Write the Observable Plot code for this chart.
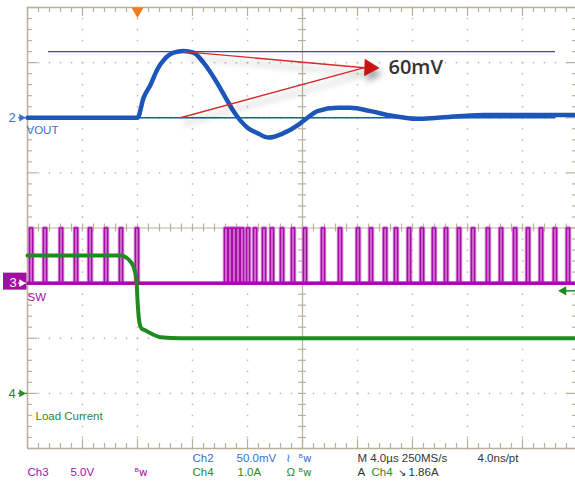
<!DOCTYPE html>
<html><head><meta charset="utf-8">
<script src="https://cdn.jsdelivr.net/npm/d3@7"></script>
<script src="https://cdn.jsdelivr.net/npm/@observablehq/plot@0.6"></script>
<style>body{margin:0;background:#fff}</style>
</head><body><div id="chart"></div>
<script>
// ---- time base: µs relative to trigger (4 µs/div, 10 divs) ----
const timeDomain = [-8, 32];
// ---- Ch2 VOUT: mV relative to its baseline (50 mV/div) ----
const voutT  = [-8, -4, 0, 0.44, 0.95, 1.45, 1.89, 2.62, 3.35, 4.07, 4.8, 5.82, 6.55, 6.98, 8.0, 8.73, 9.53, 10.62, 11.64, 12.36, 13.09, 14.55, 15.49, 16.95, 18.4, 20.36, 21.82, 25.16, 32];
const voutMV = [0, 0, 0, 18, 30, 44, 52, 59, 60.5, 59, 50, 31, 15, 6, -9, -14, -18, -14, -7, 0, 6, 9, 9, 6, 2, -1, 0, 2.5, 2.5];
// ---- Ch4 Load current: A (1.0 A/div) ----
const loadT = [-8, -1.24, -0.65, -0.29, -0.07, 0, 0.15, 0.29, 0.58, 0.95, 1.67, 3.13, 32];
const loadA = [2.5, 2.5, 2.43, 2.3, 2.05, 1.69, 1.27, 1.18, 1.14, 1.09, 1.02, 1.0, 1.0];
// ---- Ch3 SW: pulse start times (µs), levels (V, 5 V/div) ----
const swPulseT = [-7.85, -6.84, -5.67, -4.58, -3.56, -2.4, -1.31, -0.15,
  6.33, 6.62, 6.91, 7.2, 7.49, 7.93, 8.44, 9.09, 9.67, 10.4, 11.2, 12.07, 13.38, 14.62, 15.93, 16.87,
  17.9, 18.69, 19.64, 20.58, 21.45, 22.33, 23.27, 24.29, 25.38, 26.33, 27.35, 28.29, 29.24, 30.25, 31.2];
const swLowV = 0, swHighV = 5, swPulseWidth = 0.22;
// ---- measurement / settings ----
const cursorMV = [0, 60];
const overshootLabel = "60mV";
const triggerLevelA = 1.86;
const chOffsetDiv = {ch2: 2, ch3: -1, ch4: -3};
const chScale = {ch2: 50, ch3: 5, ch4: 1.0};
const row1Labels = ["Ch2", "50.0mV", "≀", "ᴮw", "M 4.0µs 250MS/s", "4.0ns/pt"];
const row2Labels = ["Ch3", "5.0V", "ᴮw", "Ch4", "1.0A", "Ω", "ᴮw", "A", "Ch4", "↘", "1.86A"];

// colours
const BLUE = "#1b56b8", BLUE_T = "#3a6fd0", MAG = "#a80ca8", MAG_L = "#d88ad8", GRN = "#1f8a1f", GRN_T = "#2a8a2a";
const TAN = "#b9b197", DOT = "#c6bfa6", DARK = "#333";

const PX = 8 / 441;          // div per px (vertical)
const TPX = 40 / 550;        // µs per px (horizontal)
const v2 = mv => chOffsetDiv.ch2 + mv / chScale.ch2;
const v3 = v => chOffsetDiv.ch3 + v / chScale.ch3;
const v4 = a => chOffsetDiv.ch4 + a / chScale.ch4;

const vout = voutT.map((t, i) => ({t, y: v2(voutMV[i])}));
const load = loadT.map((t, i) => ({t, y: v4(loadA[i])}));
const sw = [{t: timeDomain[0], y: v3(swLowV)}];
for (const t of swPulseT) {
  sw.push({t, y: v3(swLowV)}, {t, y: v3(swHighV)}, {t: t + swPulseWidth, y: v3(swHighV)}, {t: t + swPulseWidth, y: v3(swLowV)});
}
sw.push({t: timeDomain[1], y: v3(swLowV)});

// graticule helpers
const xMajor = d3.range(-8, 32.01, 4);
const xMinor = d3.range(-8, 32.01, 0.8);
const yMajor = d3.range(-4, 4.01, 1);
const yMinor = d3.range(-4, 4.01, 0.2);
const gridDots = [];
for (const x of xMajor) if (x > -8 && x < 32 && x !== 12) for (const y of yMinor) gridDots.push({x, y});
for (const y of yMajor) if (y > -4 && y < 4 && y !== 0) for (const x of xMinor) gridDots.push({x, y});

const tipT = 16.87, tipMV = 45.4;
const peakIdx = voutMV.indexOf(d3.max(voutMV));
const arrowLinks = [
  {x1: voutT[peakIdx], y1: v2(cursorMV[1]), x2: tipT - 5 * TPX, y2: v2(tipMV)},
  {x1: voutT[peakIdx] - 0.22, y1: v2(cursorMV[0]), x2: tipT - 5 * TPX, y2: v2(tipMV)}
];

const fontS = "Liberation Sans, Arial, sans-serif";
const txt = (label, x, y, fill, extra = {}) =>
  Plot.text([label], {x: () => x, y: () => y, text: d => d, fill, textAnchor: "start", fontSize: 11.5, fontFamily: fontS, ...extra});

const r1 = -4.18, r2 = -4.44;
const tAt = px => (px - 137) * TPX;

const chart = Plot.plot({
  width: 575, height: 483,
  x: {domain: timeDomain, range: [27, 577], axis: null},
  y: {domain: [-4, 4], range: [448, 7], axis: null},
  style: {background: "#fff", overflow: "visible"},
  marks: [
    // grid dots
    Plot.dot(gridDots, {x: "x", y: "y", r: 0.9, fill: DOT}),
    // center axes
    Plot.ruleX([12], {y1: -4, y2: 4, stroke: TAN, strokeWidth: 1.2}),
    Plot.ruleY([0], {x1: -8, x2: 32, stroke: TAN, strokeWidth: 1.2}),
    Plot.ruleY(yMinor, {x1: 12 - 4 * TPX, x2: 12 + 4 * TPX, stroke: TAN, strokeWidth: 1.2}),
    Plot.ruleX(xMinor, {y1: -4 * PX, y2: 4 * PX, stroke: TAN, strokeWidth: 1.2}),
    // border ticks
    Plot.ruleX(xMinor, {y1: 4, y2: d => 4 - (xMajor.includes(d) ? 9 : 5) * PX, stroke: TAN, strokeWidth: 1.2}),
    Plot.ruleX(xMinor, {y1: -4, y2: d => -4 + (xMajor.includes(d) ? 9 : 5) * PX, stroke: TAN, strokeWidth: 1.2}),
    Plot.ruleY(yMinor, {x1: -8, x2: d => -8 + (Number.isInteger(Math.round(d * 1000) / 1000) ? 10 : 5) * TPX, stroke: TAN, strokeWidth: 1.2}),
    Plot.ruleY(yMinor, {x1: 32, x2: d => 32 - (Number.isInteger(Math.round(d * 1000) / 1000) ? 10 : 5) * TPX, stroke: TAN, strokeWidth: 1.2}),
    // frame
    Plot.ruleX([-8, 32], {y1: -4, y2: 4, stroke: TAN, strokeWidth: 1.5}),
    Plot.ruleY([-4, 4], {x1: -8, x2: 32, stroke: TAN, strokeWidth: 1.5}),
    // cursors
    Plot.ruleY(cursorMV.map(v2), {x1: tAt(48), x2: tAt(555), stroke: BLUE, strokeWidth: 1.3}),
    // SW trace
    Plot.line(sw, {x: "t", y: "y", stroke: MAG_L, strokeWidth: 3.5}),
    Plot.ruleY([v3(swLowV)], {x1: -8, x2: 32, stroke: MAG, strokeWidth: 3.5}),
    Plot.line(sw, {x: "t", y: "y", stroke: MAG, strokeWidth: 1.6}),
    // load current
    Plot.line(load, {x: "t", y: "y", stroke: GRN, strokeWidth: 4, curve: "monotone-x"}),
    // VOUT
    Plot.line(vout, {x: "t", y: "y", stroke: BLUE, strokeWidth: 4.5, curve: "monotone-x"}),
    // measurement arrows
    Plot.link(arrowLinks, {x1: "x1", y1: "y1", x2: "x2", y2: "y2", stroke: "#d42a2a", strokeWidth: 1.4, ariaDescription: "measure"}),
    Plot.dot([0], {x: () => tipT, y: () => v2(tipMV), symbol: "triangle", rotate: 92, r: 6.5, fill: "#c81414", stroke: "none", ariaDescription: "measure"}),
    Plot.text([overshootLabel], {x: () => tAt(388), y: () => v2(tipMV), text: d => d, textAnchor: "start", fontSize: 20, fontWeight: 600, fill: DARK, fontFamily: "Open Sans, sans-serif"}),
    // trigger markers
    Plot.dot([0], {x: () => 0, y: () => 4 - 3.5 * PX, symbol: "triangle", rotate: 180, r: 4.5, fill: "#f07a20"}),
    Plot.ruleY([v4(triggerLevelA)], {x1: tAt(560), x2: tAt(577), stroke: GRN, strokeWidth: 1.5}),
    Plot.dot([0], {x: () => tAt(563), y: () => v4(triggerLevelA), symbol: "triangle", rotate: -90, r: 3.5, fill: GRN}),
    // channel markers
    txt("2", tAt(8), v2(0), BLUE_T, {fontSize: 13}),
    Plot.ruleY([v2(0)], {x1: tAt(18), x2: tAt(27), stroke: BLUE_T, strokeWidth: 1.2}),
    Plot.dot([0], {x: () => tAt(21), y: () => v2(0), symbol: "triangle", rotate: 90, r: 2.8, fill: BLUE_T}),
    txt("VOUT", tAt(26), v2(0) - 13 * PX, BLUE_T),
    Plot.rect([0], {x1: () => tAt(3), x2: () => tAt(26.5), y1: () => v3(0) + 10 * PX, y2: () => v3(0) - 7 * PX, fill: "#a010a0"}),
    txt("3", tAt(9), v3(0), "#fff", {fontSize: 13}),
    Plot.ruleY([v3(0)], {x1: tAt(18), x2: tAt(26), stroke: "#fff", strokeWidth: 1.2}),
    Plot.dot([0], {x: () => tAt(21), y: () => v3(0), symbol: "triangle", rotate: 90, r: 2.8, fill: "#fff"}),
    txt("SW", tAt(27), v3(0) - 14 * PX, MAG),
    txt("4", tAt(8), v4(0), GRN_T, {fontSize: 13}),
    Plot.ruleY([v4(0)], {x1: tAt(18), x2: tAt(27), stroke: GRN_T, strokeWidth: 1.2}),
    Plot.dot([0], {x: () => tAt(21), y: () => v4(0), symbol: "triangle", rotate: 90, r: 2.8, fill: GRN_T}),
    txt("Load Current", tAt(35), v4(0) - 23 * PX, GRN_T),
    // bottom readout row 1
    txt(row1Labels[0], tAt(192), r1, BLUE_T),
    txt(row1Labels[1], tAt(236), r1, BLUE_T),
    txt(row1Labels[2], tAt(285), r1, BLUE_T),
    txt(row1Labels[3], tAt(298), r1, BLUE_T, {fontFamily: "DejaVu Sans, sans-serif", fontSize: 10.5}),
    txt(row1Labels[4], tAt(357), r1, DARK),
    txt(row1Labels[5], tAt(477), r1, DARK),
    // row 2
    txt(row2Labels[0], tAt(27), r2, MAG),
    txt(row2Labels[1], tAt(70), r2, MAG),
    txt(row2Labels[2], tAt(134), r2, MAG, {fontFamily: "DejaVu Sans, sans-serif", fontSize: 10.5}),
    txt(row2Labels[3], tAt(192), r2, GRN_T),
    txt(row2Labels[4], tAt(237), r2, GRN_T),
    txt(row2Labels[5], tAt(286), r2, GRN_T),
    txt(row2Labels[6], tAt(298), r2, GRN_T, {fontFamily: "DejaVu Sans, sans-serif", fontSize: 10.5}),
    txt(row2Labels[7], tAt(357), r2, DARK),
    txt(row2Labels[8], tAt(371), r2, GRN_T),
    txt(row2Labels[9], tAt(397), r2, DARK, {fontSize: 10}),
    txt(row2Labels[10], tAt(408), r2, DARK)
  ]
});
d3.select(chart).selectAll('[aria-description="measure"]').style("filter", "drop-shadow(3px 6px 3px rgba(0,0,0,0.35))");
document.getElementById("chart").appendChild(chart);
</script>
</body></html>
